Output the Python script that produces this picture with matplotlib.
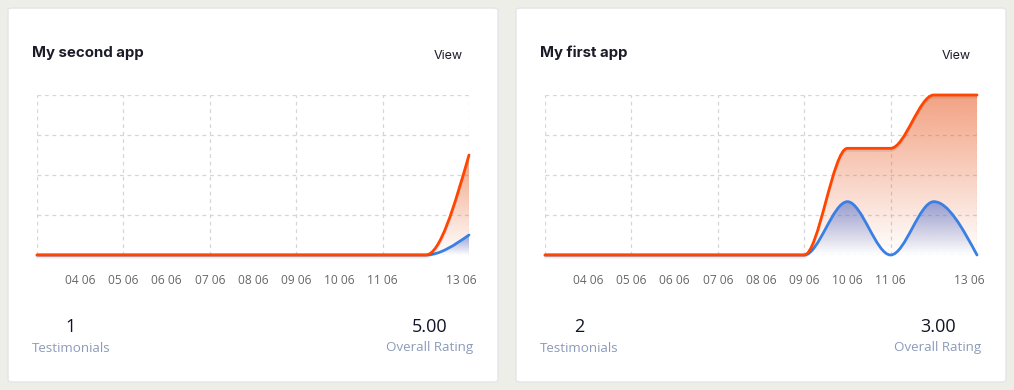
import numpy as np
import matplotlib
matplotlib.use("Agg")
import matplotlib.pyplot as plt
from matplotlib.path import Path
from matplotlib.patches import PathPatch, FancyBboxPatch
from matplotlib import patheffects as pe
from matplotlib.colors import to_rgb

# ---------------- data ----------------
dates = ["03 06", "04 06", "05 06", "06 06", "07 06", "08 06",
         "09 06", "10 06", "11 06", "12 06", "13 06"]
shown_labels = ["04 06", "05 06", "06 06", "07 06", "08 06", "09 06", "10 06", "11 06", "13 06"]

app_titles = ["My second app", "My first app"]
rating_second = [0, 0, 0, 0, 0, 0, 0, 0, 0, 0, 5]
count_second = [0, 0, 0, 0, 0, 0, 0, 0, 0, 0, 1]
rating_first = [0, 0, 0, 0, 0, 0, 0, 2, 2, 3, 3]
count_first = [0, 0, 0, 0, 0, 0, 0, 1, 0, 1, 0]
ymax_values = [8, 3]
testimonials = ["1", "2"]
overall = ["5.00", "3.00"]

W, H = 1014, 390
BG = "#eeeee9"
ORANGE = "#ff4500"
ORANGE_FILL = "#e8561e"
BLUE = "#3a80e4"
BLUE_FILL = "#4266cc"

fig = plt.figure(figsize=(W / 100, H / 100), dpi=100)
fig.patch.set_facecolor(BG)


def fx(x):
    return x / W


def fy(y):
    return 1 - y / H


def monotone_path(xs, ys):
    xs = np.asarray(xs, float)
    ys = np.asarray(ys, float)
    n = len(xs)
    t = np.zeros(n)
    for i in range(1, n - 1):
        h0 = xs[i] - xs[i - 1]
        h1 = xs[i + 1] - xs[i]
        s0 = (ys[i] - ys[i - 1]) / h0
        s1 = (ys[i + 1] - ys[i]) / h1
        p = (s0 * h1 + s1 * h0) / (h0 + h1)
        t[i] = (np.sign(s0) + np.sign(s1)) * min(abs(s0), abs(s1), 0.5 * abs(p))
    h = xs[1] - xs[0]
    t[0] = (3 * (ys[1] - ys[0]) / h - t[1]) / 2
    h = xs[-1] - xs[-2]
    t[-1] = (3 * (ys[-1] - ys[-2]) / h - t[-2]) / 2
    verts = [(xs[0], ys[0])]
    codes = [Path.MOVETO]
    for i in range(n - 1):
        dx = (xs[i + 1] - xs[i]) / 3
        verts += [(xs[i] + dx, ys[i] + dx * t[i]),
                  (xs[i + 1] - dx, ys[i + 1] - dx * t[i + 1]),
                  (xs[i + 1], ys[i + 1])]
        codes += [Path.CURVE4] * 3
    return verts, codes


def gradient_fill(ax, xs, ys, color, a_top, zorder):
    verts, codes = monotone_path(xs, ys)
    verts = verts + [(xs[-1], 0), (xs[0], 0), (xs[0], 0)]
    codes = codes + [Path.LINETO, Path.LINETO, Path.CLOSEPOLY]
    patch = PathPatch(Path(verts, codes), facecolor="none", edgecolor="none",
                      transform=ax.transData)
    ax.add_patch(patch)
    top = max(ys)
    if top <= 0:
        return
    grad = np.linspace(1, 0, 200)[:, None]
    img = np.zeros((200, 1, 4))
    img[..., :3] = to_rgb(color)
    img[..., 3] = a_top * grad
    im = ax.imshow(img, extent=(xs[0], xs[-1], 0, top), aspect="auto",
                   origin="upper", zorder=zorder, interpolation="bilinear")
    im.set_clip_path(patch)


def line(ax, xs, ys, color, zorder, shadow=False):
    verts, codes = monotone_path(xs, ys)
    kw = {}
    if shadow:
        kw["path_effects"] = [pe.SimpleLineShadow(offset=(0, -1.5), shadow_color="#000000", alpha=0.08),
                              pe.Normal()]
    p = PathPatch(Path(verts, codes), facecolor="none", edgecolor=color,
                  linewidth=2.0, transform=ax.transData, zorder=zorder,
                  capstyle="round", joinstyle="round", **kw)
    p.set_clip_on(False)
    ax.add_patch(p)


cards_x = [8, 516]
series = [(rating_second, count_second), (rating_first, count_first)]

for k in range(2):
    cx = cards_x[k]
    card = FancyBboxPatch((fx(cx), fy(382)), fx(490), 374 / H,
                          boxstyle="round,pad=0,rounding_size=0.005",
                          transform=fig.transFigure, facecolor="white",
                          edgecolor="#e2e5ea", linewidth=1.0, zorder=-5)
    fig.patches.append(card)

    fig.text(fx(cx + 24), fy(53), app_titles[k], fontsize=10.8, fontweight="bold",
             family="Inter", color="#1c1c28", va="center", ha="left")
    fig.text(fx(cx + 440), fy(56), "View", fontsize=9, family="Inter",
             color="#1c1c28", va="center", ha="center")

    left = cx + 29
    ax = fig.add_axes([fx(left), fy(255), 432 / W, 160 / H])
    ax.set_facecolor("none")
    ax.set_zorder(1)
    xs = np.arange(len(dates))
    ymax = ymax_values[k]
    ax.set_xlim(0, len(dates) - 1)
    ax.set_ylim(0, ymax)
    for s in ax.spines.values():
        s.set_visible(False)

    # grid
    for yv in np.linspace(0, ymax, 5):
        ax.axhline(yv, color="#d6d6d6", lw=0.9, ls=(0, (3, 3)), zorder=1)
    for xv in xs[::2]:
        ax.axvline(xv, color="#d6d6d6", lw=0.9, ls=(0, (3, 3)), zorder=1)

    rating, count = series[k]
    gradient_fill(ax, xs, rating, ORANGE_FILL, 0.55, zorder=2)
    gradient_fill(ax, xs, count, BLUE_FILL, 0.55, zorder=3)
    line(ax, xs, count, BLUE, zorder=4)
    line(ax, xs, rating, ORANGE, zorder=5, shadow=True)

    ax.set_xlim(0, len(dates) - 1)
    ax.set_ylim(0, ymax)
    ax.set_yticks([])
    tick_pos = [dates.index(l) for l in shown_labels[:-1]]
    ax.set_xticks(tick_pos)
    ax.set_xticklabels(shown_labels[:-1], fontsize=8.6, color="#666666", family="Open Sans")
    ax.tick_params(axis="x", length=0, pad=14)
    ax.annotate(shown_labels[-1], xy=(dates.index(shown_labels[-1]), 0),
                xycoords="data", xytext=(-8, -26), textcoords="offset pixels",
                ha="center", va="center", fontsize=8.6, color="#666666", family="Open Sans",
                annotation_clip=False)

    # stats
    fig.text(fx(cx + 63), fy(327), testimonials[k], fontsize=13, color="#111426",
             family="Open Sans", fontweight="medium", ha="center", va="center")
    fig.text(fx(cx + 63), fy(348), "Testimonials", fontsize=9.6, color="#8c9bb9",
             family="Open Sans", ha="center", va="center")
    fig.text(fx(cx + 422), fy(327), overall[k], fontsize=13, color="#111426",
             family="Open Sans", fontweight="medium", ha="center", va="center")
    fig.text(fx(cx + 422), fy(348), "Overall Rating", fontsize=9.6, color="#8c9bb9",
             family="Open Sans", ha="center", va="center")

fig.savefig("out.png", dpi=100, facecolor=BG)
